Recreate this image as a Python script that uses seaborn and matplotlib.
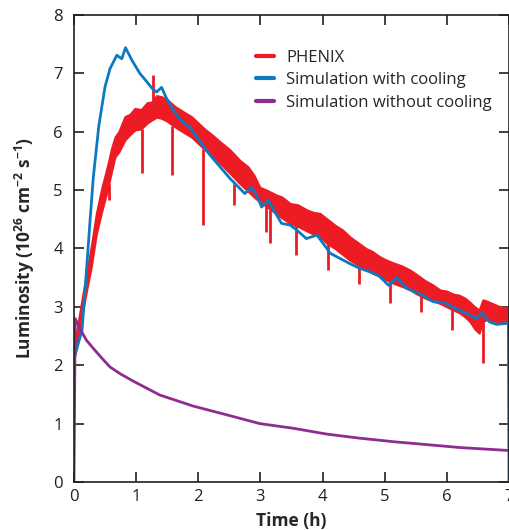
import numpy as np
import pandas as pd
import matplotlib
matplotlib.use('Agg')
import matplotlib.pyplot as plt
import seaborn as sns

# Simulation without cooling
t_nocool = [0.0, 0.02, 0.10, 0.20, 0.31, 0.45, 0.58, 0.75, 0.95, 1.38, 1.92, 2.46, 2.99,
            3.53, 4.07, 4.60, 5.14, 5.68, 6.21, 6.99]
L_nocool = [0.0, 2.80, 2.62, 2.43, 2.29, 2.12, 1.97, 1.85, 1.73, 1.49, 1.30, 1.15, 1.00,
            0.92, 0.82, 0.75, 0.69, 0.64, 0.59, 0.54]

# Simulation with cooling
t_cool = [0.0, 0.05, 0.13, 0.20, 0.26, 0.31, 0.40, 0.50, 0.58, 0.69, 0.77, 0.83, 0.93,
          1.06, 1.17, 1.26, 1.33, 1.41, 1.49, 1.60, 1.71, 1.87, 2.03, 2.19, 2.35, 2.51,
          2.64, 2.75, 2.86, 2.94, 3.02, 3.13, 3.23, 3.34, 3.48, 3.58, 3.74, 3.91, 4.07,
          4.12, 4.28, 4.44, 4.60, 4.76, 4.90, 5.06, 5.19, 5.35, 5.57, 5.78, 5.97, 6.16,
          6.32, 6.48, 6.56, 6.69, 6.80, 6.99, 7.0]
L_cool = [2.10, 2.30, 2.60, 3.60, 4.49, 5.20, 6.10, 6.77, 7.08, 7.31, 7.25, 7.44, 7.23,
          7.00, 6.86, 6.74, 6.68, 6.76, 6.57, 6.37, 6.20, 6.07, 5.83, 5.60, 5.40, 5.20,
          5.06, 4.94, 5.05, 4.91, 4.71, 4.83, 4.63, 4.43, 4.40, 4.32, 4.17, 4.23, 4.00,
          3.92, 3.83, 3.74, 3.66, 3.60, 3.54, 3.37, 3.50, 3.32, 3.22, 3.09, 3.07, 2.96,
          2.89, 2.80, 2.89, 2.74, 2.70, 2.72, 0.0]

# PHENIX measurement: noisy band (upper / lower edge)
t_phenix = [0.0, 0.07, 0.18, 0.28, 0.36, 0.45, 0.50, 0.55, 0.60, 0.66, 0.72, 0.82, 0.90,
            0.98, 1.08, 1.18, 1.25, 1.33, 1.41, 1.50, 1.63, 1.75, 1.89, 2.00, 2.10, 2.22,
            2.35, 2.50, 2.67, 2.80, 2.90, 2.99, 3.10, 3.25, 3.35, 3.48, 3.60, 3.75, 3.85,
            3.96, 4.08, 4.20, 4.32, 4.44, 4.57, 4.70, 4.80, 4.92, 5.03, 5.15, 5.28, 5.41,
            5.52, 5.65, 5.77, 5.89, 6.00, 6.10, 6.20, 6.29, 6.37, 6.45, 6.52, 6.58, 6.64,
            6.75, 6.86, 7.0]
L_phenix_hi = [2.30, 2.75, 3.45, 4.05, 4.60, 5.05, 5.25, 5.46, 5.70, 5.91, 6.00, 6.26, 6.30,
               6.40, 6.38, 6.50, 6.51, 6.62, 6.60, 6.55, 6.43, 6.35, 6.26, 6.15, 6.05, 5.95,
               5.83, 5.70, 5.51, 5.40, 5.25, 5.05, 5.00, 4.92, 4.88, 4.77, 4.75, 4.66, 4.62,
               4.60, 4.50, 4.40, 4.32, 4.20, 4.10, 4.00, 3.95, 3.86, 3.80, 3.75, 3.70, 3.63,
               3.55, 3.45, 3.38, 3.29, 3.27, 3.22, 3.20, 3.15, 3.08, 3.00, 2.95, 3.12, 3.10,
               3.05, 3.00, 2.98]
L_phenix_lo = [2.10, 2.50, 3.15, 3.70, 4.25, 4.65, 4.85, 5.06, 5.30, 5.57, 5.65, 5.86, 5.95,
               6.03, 6.05, 6.15, 6.20, 6.25, 6.23, 6.18, 6.08, 6.00, 5.91, 5.80, 5.70, 5.58,
               5.46, 5.30, 5.11, 4.98, 4.88, 4.80, 4.72, 4.60, 4.52, 4.43, 4.38, 4.30, 4.25,
               4.20, 4.08, 4.00, 3.90, 3.80, 3.72, 3.65, 3.58, 3.52, 3.46, 3.40, 3.35, 3.29,
               3.22, 3.15, 3.10, 3.06, 3.00, 2.95, 2.90, 2.83, 2.75, 2.62, 2.55, 2.75, 2.78,
               2.76, 2.74, 2.72]

# beam loss dips and one spike in the PHENIX trace
dip_t = [0.53, 0.57, 1.09, 1.58, 2.08, 2.58, 3.09, 3.15, 3.58, 4.08, 4.59, 5.09, 5.58, 6.09, 6.58]
dip_bottom = [5.00, 4.83, 5.29, 5.26, 4.40, 4.74, 4.29, 4.09, 3.89, 3.63, 3.40, 3.06, 2.92, 2.61, 2.03]
dip_top = [5.20, 5.10, 6.05, 6.10, 5.70, 5.10, 4.80, 4.75, 4.40, 4.15, 3.80, 3.50, 3.30, 3.05, 2.80]
spike_t = [1.27]
spike_lo = [6.40]
spike_hi = [6.97]

labels = ['PHENIX', 'Simulation with cooling', 'Simulation without cooling']
colors = ['#ed1c24', '#0b7bc1', '#8e2c90']

sns.set_style('ticks')
plt.rcParams['font.family'] = ['Open Sans', 'DejaVu Sans']
plt.rcParams['mathtext.default'] = 'regular'

fig = plt.figure(figsize=(5.1, 5.3), dpi=100)
ax = fig.add_axes([0.145, 0.0906, 0.853, 0.8811])

ax.fill_between(t_phenix, L_phenix_lo, L_phenix_hi, color=colors[0], lw=1.5, edgecolor=colors[0])
ax.vlines(dip_t, dip_bottom, dip_top, color=colors[0], lw=2)
ax.vlines(spike_t, spike_lo, spike_hi, color=colors[0], lw=2)

cool = pd.DataFrame({'t': t_cool, 'L': L_cool})
nocool = pd.DataFrame({'t': t_nocool, 'L': L_nocool})
sns.lineplot(data=cool, x='t', y='L', ax=ax, color=colors[1], lw=2, sort=False)
sns.lineplot(data=nocool, x='t', y='L', ax=ax, color=colors[2], lw=2, sort=False)

# legend
handles = [plt.Line2D([], [], color=c, lw=3) for c in colors]
ax.legend(handles, labels, loc='upper right', bbox_to_anchor=(0.995, 0.958), frameon=False,
          fontsize=12, handlelength=1.1, handletextpad=0.7, labelspacing=0.4)

ax.set_xlim(0, 7)
ax.set_ylim(0, 8)
ax.set_xticks(range(0, 8))
ax.set_yticks(range(0, 9))
ax.tick_params(direction='in', length=7, width=1.2, top=True, right=True,
               labelsize=12, colors='#231f20')
ax.tick_params(axis='x', pad=5)
ax.tick_params(axis='y', pad=8)
for s in ax.spines.values():
    s.set_linewidth(1.2)
    s.set_color('#231f20')
ax.set_xlabel('Time (h)', fontsize=12.5, fontweight='bold', labelpad=5)
ax.set_ylabel('Luminosity (10$^{26}$ cm$^{-2}$ s$^{-1}$)', fontsize=12.5, fontweight='bold',
              labelpad=12)

fig.savefig('out.png', dpi=100)
